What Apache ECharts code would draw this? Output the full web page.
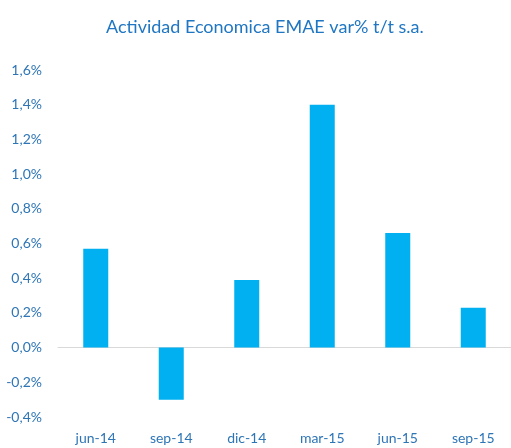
<!DOCTYPE html>
<html>
<head>
<meta charset="utf-8">
<script src="https://cdn.jsdelivr.net/npm/echarts@6/dist/echarts.min.js"></script>
<style>
  html, body { margin: 0; padding: 0; background: #fff; }
  #chart { width: 511px; height: 448px; }
</style>
</head>
<body>
<div id="chart"></div>
<script>
var categories = ['jun-14', 'sep-14', 'dic-14', 'mar-15', 'jun-15', 'sep-15'];
var values = [0.57, -0.30, 0.39, 1.40, 0.66, 0.23];

var myChart = echarts.init(document.getElementById('chart'));
var option = {
    animation: false,
    textStyle: { fontFamily: 'Lato' },
    title: {
        text: 'Actividad Economica EMAE var% t/t s.a.',
        left: 101,
        top: 13,
        textStyle: { color: '#1F76C2', fontSize: 18, fontWeight: 'normal', fontFamily: 'Lato' }
    },
    grid: { left: 58, right: 0, top: 70, bottom: 31 },
    xAxis: [
        {
            type: 'category',
            data: categories,
            position: 'bottom',
            axisLine: { show: false, onZero: false },
            axisTick: { show: false },
            axisLabel: { color: '#2E75B6', fontSize: 14, margin: 14 }
        },
        {
            type: 'category',
            data: categories,
            position: 'bottom',
            axisLine: { onZero: true, lineStyle: { color: '#D9D9D9', width: 1 } },
            axisTick: { show: false },
            axisLabel: { show: false }
        }
    ],
    yAxis: {
        type: 'value',
        min: -0.4,
        max: 1.6,
        interval: 0.2,
        axisLine: { show: false },
        axisTick: { show: false },
        splitLine: { show: false },
        axisLabel: {
            color: '#2E75B6',
            fontSize: 14,
            margin: 16,
            formatter: function (v) { return v.toFixed(1).replace('.', ',') + '%'; }
        }
    },
    series: [
        {
            type: 'bar',
            xAxisIndex: 0,
            data: values,
            barWidth: 25,
            itemStyle: { color: '#00B0F0' }
        }
    ]
};
myChart.setOption(option);
</script>
</body>
</html>
